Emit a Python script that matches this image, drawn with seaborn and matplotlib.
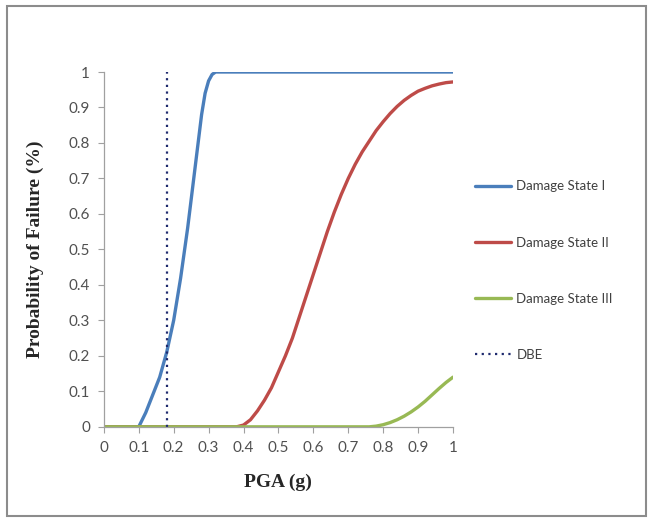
import matplotlib
matplotlib.use("Agg")
import matplotlib.pyplot as plt
import seaborn as sns
import pandas as pd
from matplotlib.patches import Rectangle

# Data
pga_ds1 = [0.0, 0.10, 0.12, 0.14, 0.16, 0.18, 0.20, 0.22, 0.24, 0.26, 0.27, 0.28, 0.29, 0.30, 0.31, 0.32, 0.40, 0.60, 0.80, 1.0]
pf_ds1 = [0.0, 0.0, 0.04, 0.09, 0.14, 0.21, 0.30, 0.42, 0.56, 0.72, 0.80, 0.88, 0.94, 0.975, 0.993, 1.0, 1.0, 1.0, 1.0, 1.0]

pga_ds2 = [0.0, 0.38, 0.40, 0.42, 0.44, 0.46, 0.48, 0.50, 0.52, 0.54, 0.56, 0.58, 0.60, 0.62, 0.64, 0.66,
           0.68, 0.70, 0.72, 0.74, 0.76, 0.78, 0.80, 0.82, 0.84, 0.86, 0.88, 0.90, 0.92, 0.94, 0.96, 0.98, 1.0]
pf_ds2 = [0.0, 0.0, 0.005, 0.02, 0.045, 0.075, 0.11, 0.155, 0.20, 0.25, 0.31, 0.37, 0.43, 0.49, 0.55, 0.605,
          0.655, 0.70, 0.74, 0.775, 0.805, 0.835, 0.86, 0.883, 0.903, 0.92, 0.934, 0.946, 0.954, 0.961, 0.966, 0.97, 0.972]

pga_ds3 = [0.0, 0.76, 0.78, 0.80, 0.82, 0.84, 0.86, 0.88, 0.90, 0.92, 0.94, 0.96, 0.98, 1.0]
pf_ds3 = [0.0, 0.0, 0.002, 0.006, 0.012, 0.02, 0.03, 0.042, 0.056, 0.072, 0.09, 0.108, 0.125, 0.14]

dbe_pga = 0.18
series_names = ["Damage State I", "Damage State II", "Damage State III"]
colors = ["#4a7ebb", "#be4b48", "#98b954"]
x_ticks = [0, 0.1, 0.2, 0.3, 0.4, 0.5, 0.6, 0.7, 0.8, 0.9, 1.0]
x_tick_labels = ["0", "0.1", "0.2", "0.3", "0.4", "0.5", "0.6", "0.7", "0.8", "0.9", "1"]
y_ticks = [0, 0.1, 0.2, 0.3, 0.4, 0.5, 0.6, 0.7, 0.8, 0.9, 1.0]
y_tick_labels = ["0", "0.1", "0.2", "0.3", "0.4", "0.5", "0.6", "0.7", "0.8", "0.9", "1"]

df = pd.concat([
    pd.DataFrame({"PGA": pga_ds1, "Pf": pf_ds1, "State": series_names[0]}),
    pd.DataFrame({"PGA": pga_ds2, "Pf": pf_ds2, "State": series_names[1]}),
    pd.DataFrame({"PGA": pga_ds3, "Pf": pf_ds3, "State": series_names[2]}),
])

sns.set_style("white")
tick_font = ["Lato", "DejaVu Sans"]

fig = plt.figure(figsize=(6.49, 5.18), dpi=100)
ax = fig.add_axes([0.160, 0.176, 0.538, 0.685])

sns.lineplot(data=df, x="PGA", y="Pf", hue="State", palette=colors, linewidth=2.4,
             ax=ax, sort=False, estimator=None)
ax.axvline(dbe_pga, color="#1f2a6e", linestyle=(0, (1, 2)), linewidth=1.6, label="DBE")

ax.set_xlim(0, 1)
ax.set_ylim(0, 1)
ax.set_xticks(x_ticks)
ax.set_xticklabels(x_tick_labels, family=tick_font, fontsize=11, color="#505050")
ax.set_yticks(y_ticks)
ax.set_yticklabels(y_tick_labels, family=tick_font, fontsize=11, color="#505050")
ax.tick_params(axis="both", which="major", direction="out", length=4, width=0.8,
               color="#a0a0a0", bottom=True, left=True, pad=6)

for s in ["top", "right"]:
    ax.spines[s].set_visible(False)
for s in ["left", "bottom"]:
    ax.spines[s].set_color("#a0a0a0")
    ax.spines[s].set_linewidth(0.9)

ax.set_xlabel("PGA (g)", family="Liberation Serif", fontweight="bold", fontsize=14, labelpad=14)
ax.set_ylabel("Probability of Failure (%)", family="Liberation Serif", fontweight="bold",
              fontsize=14, labelpad=18)

handles, labels = ax.get_legend_handles_labels()
leg = ax.legend(handles, labels, loc="center left", bbox_to_anchor=(1.03, 0.44),
                frameon=False, labelspacing=3.35, handlelength=2.7, handletextpad=0.4,
                prop={"family": tick_font, "size": 9.5})
for t in leg.get_texts():
    t.set_color("#404040")

fig.patches.append(Rectangle((0.011, 0.004), 0.985, 0.984, transform=fig.transFigure,
                             fill=False, edgecolor="#8c8c8c", linewidth=1.5))

fig.savefig("out.png", dpi=100)
